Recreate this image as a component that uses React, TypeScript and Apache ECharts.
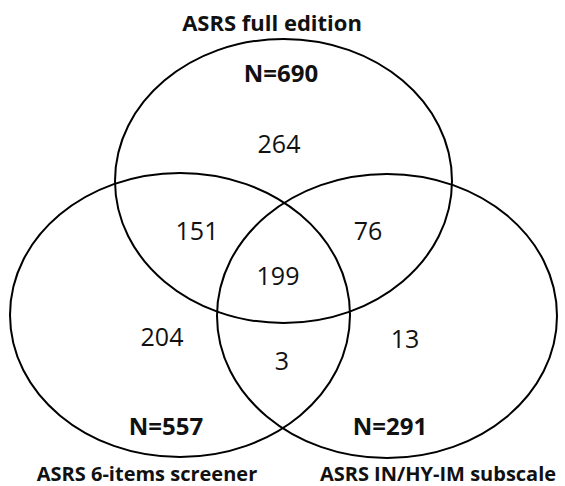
import React, { useEffect, useRef } from "react";
import * as echarts from "echarts";

// ---- data ----
const setNames = ["ASRS full edition", "ASRS 6-items screener", "ASRS IN/HY-IM subscale"];
const setTotals = [690, 557, 291];
const regionNames = [
  "Full only",
  "Full & 6-items",
  "Full & IN/HY-IM",
  "All three",
  "6-items only",
  "6-items & IN/HY-IM",
  "IN/HY-IM only",
];
const regionCounts = [264, 151, 76, 199, 204, 3, 13];

// ---- layout (canvas units mapped through hidden axes) ----
const W = 565;
const H = 486;
// ellipse per set: [cx, cy, rx, ry]
const setEllipses = [
  [283.5, 181, 168.5, 142],
  [180, 315, 170, 142],
  [387, 316, 170, 142],
];
const setNameAnchors = [
  [272, 22],
  [147, 473],
  [438, 473],
];
const setNameSizes = [22, 20, 20];
const setTotalAnchors = [
  [281, 72],
  [166, 425],
  [390, 425],
];
const regionAnchors = [
  [279, 143],
  [197, 230],
  [368, 230],
  [278, 275],
  [162, 336],
  [282, 360],
  [405, 338],
];

const FONT = "'Open Sans', 'Noto Sans', sans-serif";

export default function App() {
  const ref = useRef<HTMLDivElement>(null);
  useEffect(() => {
    if (!ref.current) return;
    const chart = echarts.init(ref.current, undefined, { renderer: "svg" });
    const textSeries = (
      name: string,
      anchors: number[][],
      labels: string[],
      sizes: number[],
      fontWeight: string
    ) => ({
      type: "custom",
      name,
      coordinateSystem: "cartesian2d",
      data: anchors.map((a) => [a[0], a[1]]),
      encode: { x: 0, y: 1 },
      renderItem: (params: any, api: any) => {
        const p = api.coord([api.value(0), api.value(1)]);
        return {
          type: "text",
          x: p[0],
          y: p[1],
          style: {
            text: labels[params.dataIndex],
            align: "center",
            verticalAlign: "middle",
            fontSize: sizes[params.dataIndex % sizes.length],
            fontWeight,
            fontFamily: FONT,
            fill: "#111",
          },
        };
      },
    });
    chart.setOption({
      animation: false,
      backgroundColor: "#fff",
      grid: { left: 0, right: 0, top: 0, bottom: 0 },
      xAxis: { type: "value", min: 0, max: W, show: false },
      yAxis: { type: "value", min: 0, max: H, inverse: true, show: false },
      series: [
        {
          type: "custom",
          name: "sets",
          coordinateSystem: "cartesian2d",
          data: setEllipses,
          encode: { x: 0, y: 1 },
          renderItem: (params: any, api: any) => {
            const c = api.coord([api.value(0), api.value(1)]);
            const s = api.size([api.value(2), api.value(3)]);
            return {
              type: "ellipse",
              shape: { cx: c[0], cy: c[1], rx: s[0], ry: s[1] },
              style: { fill: "none", stroke: "#000", lineWidth: 2 },
            };
          },
        },
        textSeries("setNames", setNameAnchors, setNames, setNameSizes, "bold"),
        textSeries(
          "setTotals",
          setTotalAnchors,
          setTotals.map((n) => "N=" + n),
          [24],
          "bold"
        ),
        textSeries(
          "regions",
          regionAnchors,
          regionCounts.map((n) => String(n)),
          [25],
          "normal"
        ),
      ],
    });
    return () => chart.dispose();
  }, []);
  return (
    <div
      ref={ref}
      style={{ position: "fixed", left: 0, top: 0, width: W, height: H }}
    />
  );
}
